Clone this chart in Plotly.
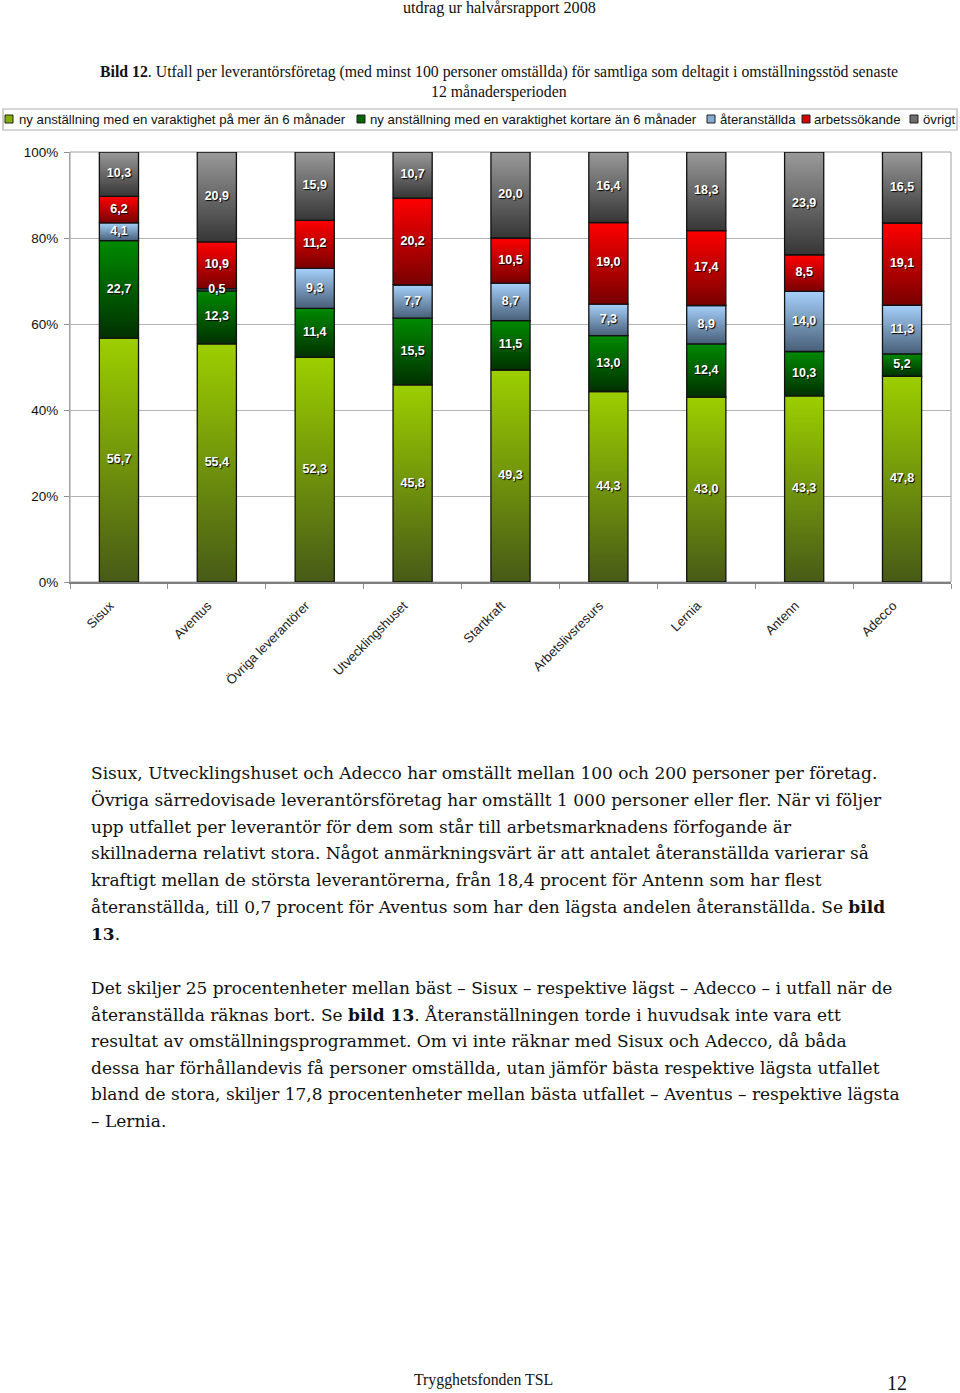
import plotly.graph_objects as go

W, H = 960, 1393

categories = [
    "Sisux", "Aventus", "Övriga leverantörer", "Utvecklingshuset", "Startkraft",
    "Arbetslivsresurs", "Lernia", "Antenn", "Adecco",
]
lang_anstallning = [56.7, 55.4, 52.3, 45.8, 49.3, 44.3, 43.0, 43.3, 47.8]
kort_anstallning = [22.7, 12.3, 11.4, 15.5, 11.5, 13.0, 12.4, 10.3, 5.2]
ateranstallda = [4.1, 0.5, 9.3, 7.7, 8.7, 7.3, 8.9, 14.0, 11.3]
arbetssokande = [6.2, 10.9, 11.2, 20.2, 10.5, 19.0, 17.4, 8.5, 19.1]
ovrigt = [10.3, 20.9, 15.9, 10.7, 20.0, 16.4, 18.3, 23.9, 16.5]

series_names = [
    "ny anställning med en varaktighet på mer än 6 månader",
    "ny anställning med en varaktighet kortare än 6 månader",
    "återanställda",
    "arbetssökande",
    "övrigt",
]
y_ticks = [0, 20, 40, 60, 80, 100]
y_tick_labels = ["0%", "20%", "40%", "60%", "80%", "100%"]

# (top colour, bottom colour) for each stacked segment
gradients = [
    ("#9ccf00", "#475a17"),
    ("#008a00", "#013001"),
    ("#a6d0fb", "#485f78"),
    ("#ff0000", "#780000"),
    ("#9a9a9a", "#363636"),
]
# flat colours for the little legend squares
legend_colors = ["#86b000", "#006400", "#86aad0", "#d00000", "#6e6e6e"]

paragraph_1 = [
    "Sisux, Utvecklingshuset och Adecco har omställt mellan 100 och 200 personer per företag.",
    "Övriga särredovisade leverantörsföretag har omställt 1 000 personer eller fler. När vi följer",
    "upp utfallet per leverantör för dem som står till arbetsmarknadens förfogande är",
    "skillnaderna relativt stora. Något anmärkningsvärt är att antalet återanställda varierar så",
    "kraftigt mellan de största leverantörerna, från 18,4 procent för Antenn som har flest",
    "återanställda, till 0,7 procent för Aventus som har den lägsta andelen återanställda. Se <b>bild</b>",
    "<b>13</b>.",
]
paragraph_2 = [
    "Det skiljer 25 procentenheter mellan bäst – Sisux – respektive lägst – Adecco – i utfall när de",
    "återanställda räknas bort. Se <b>bild 13</b>. Återanställningen torde i huvudsak inte vara ett",
    "resultat av omställningsprogrammet. Om vi inte räknar med Sisux och Adecco, då båda",
    "dessa har förhållandevis få personer omställda, utan jämför bästa respektive lägsta utfallet",
    "bland de stora, skiljer 17,8 procentenheter mellan bästa utfallet – Aventus – respektive lägsta",
    "– Lernia.",
]

sans = "Arial, Liberation Sans, sans-serif"
serif = "Liberation Serif, Times New Roman, serif"
body_serif = "DejaVu Serif, serif"

# legend row (pixel positions of the squares and the text starts)
legend_square_x = [5, 357, 707, 802, 910]
legend_text_x = [17, 368, 718, 812, 921]


def xp(px):
    return px / W


def yp(py):
    # pixel row -> paper coordinate
    return 1 - py / H


series = [lang_anstallning, kort_anstallning, ateranstallda, arbetssokande, ovrigt]
totals = [sum(col) for col in zip(*series)]
half = 0.2

fig = go.Figure()
base = [0.0] * len(categories)
text_traces = []
for name, values, (light, dark) in zip(series_names, series, gradients):
    mids, labels = [], []
    for i, v in enumerate(values):
        lo = base[i]
        hi = lo + v / totals[i] * 100
        fig.add_trace(
            go.Scatter(
                x=[i - half, i + half, i + half, i - half, i - half],
                y=[lo, lo, hi, hi, lo],
                mode="lines",
                fill="toself",
                fillgradient=dict(
                    type="vertical",
                    colorscale=[[0, dark], [1, light]],
                    start=lo,
                    stop=hi,
                ),
                line=dict(color="#111111", width=1.3),
                name=name,
                showlegend=False,
                hoverinfo="skip",
            )
        )
        mids.append((lo + hi) / 2)
        labels.append(f"{v:.1f}".replace(".", ","))
        base[i] = hi
    text_traces.append(
        go.Scatter(
            x=list(range(len(categories))),
            y=mids,
            mode="text",
            text=labels,
            textfont=dict(
                family=sans, size=12.5, color="white", weight="bold",
                shadow="1px 1px 1px #000000",
            ),
            showlegend=False,
            hoverinfo="skip",
        )
    )
# labels on top of every segment
for t in text_traces:
    fig.add_trace(t)

fig.update_layout(
    width=W,
    height=H,
    margin=dict(l=0, r=0, t=0, b=0),
    paper_bgcolor="white",
    plot_bgcolor="white",
    showlegend=False,
    xaxis=dict(
        domain=[xp(70), xp(951)],
        range=[-0.5, len(categories) - 0.5],
        tickmode="array",
        tickvals=list(range(len(categories))),
        ticktext=categories,
        tickangle=-45,
        ticks="",
        ticklabelstandoff=9,
        ticklabelshift=-9,
        tickfont=dict(family=sans, size=13, color="#222222"),
        minor=dict(ticks="outside", tick0=-0.5, dtick=1, ticklen=5, tickcolor="#909090", showgrid=False),
        showgrid=False,
        zeroline=False,
        showline=True,
        linecolor="#808080",
        linewidth=2,
        automargin=False,
        fixedrange=True,
    ),
    yaxis=dict(
        domain=[yp(582), yp(152)],
        range=[0, 100],
        tickmode="array",
        tickvals=y_ticks,
        ticktext=y_tick_labels,
        ticks="outside",
        ticklen=5,
        tickcolor="#909090",
        ticklabelstandoff=3,
        tickfont=dict(family=sans, size=13.5, color="#111111"),
        showgrid=True,
        gridcolor="#b4b4b4",
        gridwidth=1,
        zeroline=False,
        showline=True,
        linecolor="#a0a0a0",
        linewidth=1,
        automargin=False,
        fixedrange=True,
    ),
)

# right and top frame of the plot area
fig.add_shape(type="rect", xref="paper", yref="paper",
              x0=xp(70), x1=xp(951), y0=yp(582), y1=yp(152),
              line=dict(color="#a0a0a0", width=1), layer="below")

# legend box across the page
fig.add_shape(type="rect", xref="paper", yref="paper",
              x0=xp(3), x1=xp(957), y0=yp(130), y1=yp(109),
              line=dict(color="#b0b0b0", width=1.2), fillcolor="white", layer="below")

annotations = [
    dict(text="utdrag ur halvårsrapport 2008", x=xp(499), y=yp(8), font=dict(family=serif, size=16.2, color="#111111")),
    dict(text="<b>Bild 12</b>. Utfall per leverantörsföretag (med minst 100 personer omställda) för samtliga som deltagit i omställningsstöd senaste",
         x=xp(499), y=yp(72), font=dict(family=serif, size=15.8, color="#111111")),
    dict(text="12 månadersperioden", x=xp(499), y=yp(92), font=dict(family=serif, size=15.8, color="#111111")),
    dict(text="Trygghetsfonden TSL", x=xp(483), y=yp(1380), font=dict(family=serif, size=15.8, color="#111111")),
    dict(text="12", x=xp(897), y=yp(1383), font=dict(family=serif, size=20, color="#111111")),
]
for name, color, sx, tx in zip(series_names, legend_colors, legend_square_x, legend_text_x):
    fig.add_shape(type="rect", xref="paper", yref="paper",
                  x0=xp(sx), x1=xp(sx + 8), y0=yp(123), y1=yp(115),
                  line=dict(color="#222222", width=1), fillcolor=color)
    annotations.append(dict(text=name, x=xp(tx), y=yp(119.5), xanchor="left",
                            font=dict(family=sans, size=13.2, color="#111111")))

for k, line in enumerate(paragraph_1):
    annotations.append(dict(text=line, x=xp(89), y=yp(773 + k * 26.8), xanchor="left",
                            font=dict(family=body_serif, size=17, color="#111111")))
for k, line in enumerate(paragraph_2):
    annotations.append(dict(text=line, x=xp(89), y=yp(988 + k * 26.6), xanchor="left",
                            font=dict(family=body_serif, size=17, color="#111111")))

for a in annotations:
    a.setdefault("xanchor", "center")
    fig.add_annotation(xref="paper", yref="paper", yanchor="middle", showarrow=False, align="left", **a)

# drop the default 8px body margin so the page lines up with the window
fig.write_html(
    "out.html",
    config={"displayModeBar": False},
    post_script="document.body.style.margin='0px';",
)
